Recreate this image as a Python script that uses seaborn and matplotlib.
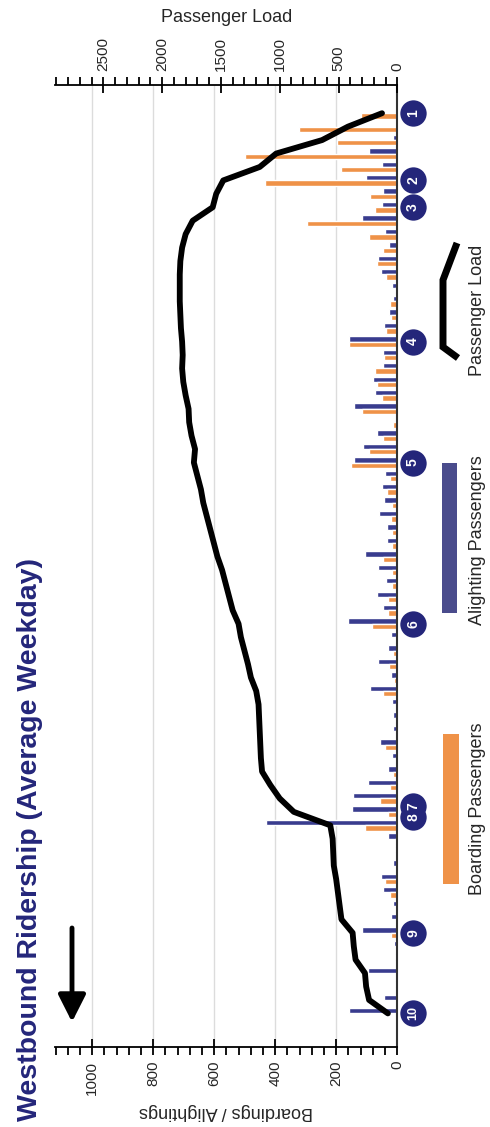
import matplotlib
matplotlib.use("Agg")
import matplotlib.pyplot as plt
import matplotlib.ticker as mticker
from matplotlib import font_manager
import numpy as np
import pandas as pd
import seaborn as sns

# ---------------------------------------------------------------- data
stops = list(range(68))
boardings = [120, 321, 197, 500, 185, 434, 90, 73, 297, 92, 46, 66, 37, 8, 24, 21, 38, 157,
             43, 73, 68, 51, 117, 15, 48, 92, 152, 24, 33, 19, 21, 19, 19, 48, 19, 19, 30, 30,
             84, 8, 13, 26, 11, 48, 8, 8, 8, 40, 8, 15, 24, 57, 30, 106, 8, 4, 5, 40, 24, 3,
             3, 21, 2, 2, 3, 2, 3, 0]
alightings = [3, 0, 13, 93, 51, 104, 46, 51, 117, 40, 27, 62, 55, 19, 15, 27, 43, 157,
              46, 48, 79, 73, 142, 4, 68, 114, 141, 40, 51, 43, 59, 33, 33, 106, 64, 37, 68, 46,
              161, 22, 32, 62, 21, 90, 19, 15, 15, 57, 19, 30, 95, 144, 150, 430, 30, 8, 13, 55,
              46, 13, 21, 117, 10, 8, 95, 8, 44, 157]
load = [130, 420, 640, 1030, 1170, 1480, 1540, 1570, 1740, 1800, 1830, 1845, 1850, 1850,
        1850, 1845, 1840, 1830, 1825, 1830, 1820, 1800, 1775, 1770, 1750, 1720, 1730, 1700,
        1670, 1650, 1620, 1590, 1560, 1530, 1490, 1460, 1430, 1400, 1350, 1330, 1300, 1270,
        1245, 1200, 1180, 1175, 1170, 1165, 1160, 1150, 1080, 1000, 880, 570, 550, 545, 540,
        520, 505, 490, 475, 380, 370, 355, 275, 265, 240, 80]
timepoint_labels = ["1", "2", "3", "4", "5", "6", "7", "8", "9", "10"]
timepoint_stops = [0, 5, 7, 17, 26, 38, 51.6, 52.4, 61, 67]

BLUE = "#393C8E"
ORANGE = "#EF9248"
NAVY = "#24267A"

sns.set_theme(style="white")
available = {f.name for f in font_manager.fontManager.ttflist}
plt.rcParams["font.family"] = ["Liberation Sans", "DejaVu Sans"]
title_family = ["Liberation Sans Narrow", "Liberation Sans", "DejaVu Sans"] \
    if "Liberation Sans Narrow" in available else ["Liberation Sans", "DejaVu Sans"]

df = pd.DataFrame({
    "stop": stops * 2,
    "riders": alightings + boardings,
    "kind": ["Alighting"] * len(stops) + ["Boarding"] * len(stops),
})

W, H = 490, 1127
fig = plt.figure(figsize=(W / 100, H / 100), dpi=100)
ax = fig.add_axes([55 / W, 1 - 1047 / H, (397.3 - 55) / W, (1047 - 85) / H])

sns.barplot(data=df, x="riders", y="stop", hue="kind", hue_order=["Alighting", "Boarding"],
            palette=[BLUE, ORANGE], orient="h", dodge=True, width=0.8, saturation=1,
            errorbar=None, legend=False, ax=ax)

ax2 = ax.twiny()
sns.lineplot(x=load, y=stops, sort=False, estimator=None, color="black", lw=4.2,
             solid_joinstyle="round", ax=ax2)

# boardings / alightings axis (bottom)
ax.set_xlim(1122, 0)
ax.set_ylim(69.5, -2.1)
ax.xaxis.set_major_locator(mticker.FixedLocator(range(0, 1001, 200)))
ax.xaxis.set_minor_locator(mticker.FixedLocator(range(0, 1121, 40)))
ax.tick_params(axis="x", which="major", direction="inout", length=12, width=1.3,
               labelsize=11, labelrotation=90, pad=4, color="black")
ax.tick_params(axis="x", which="minor", direction="out", length=6, width=1.3, color="black")
ax.tick_params(axis="y", left=False, right=False, labelleft=False)
ax.set_xlabel("Boardings / Alightings", rotation=180, fontsize=13, labelpad=6)
ax.set_ylabel("")
ax.grid(axis="x", which="major", color="#dcdcdc", lw=1)
ax.set_axisbelow(True)
for side in ["left", "top"]:
    ax.spines[side].set_visible(False)
ax.spines["bottom"].set_color("black")
ax.spines["bottom"].set_linewidth(1.3)
ax.spines["right"].set_color("#333333")
ax.spines["right"].set_linewidth(1.5)

# passenger load axis (top)
ax2.set_xlim(2911, 0)
ax2.xaxis.set_major_locator(mticker.FixedLocator(range(0, 2501, 500)))
ax2.xaxis.set_minor_locator(mticker.FixedLocator(range(0, 2901, 100)))
ax2.tick_params(axis="x", which="major", direction="inout", length=12, width=1.3,
                labelsize=11, labelrotation=90, pad=4, color="black")
ax2.tick_params(axis="x", which="minor", direction="out", length=6, width=1.3, color="black")
ax2.tick_params(axis="y", left=False, right=False, labelleft=False, labelright=False)
ax2.set_xlabel("Passenger Load", fontsize=13, labelpad=11)
ax2.set_ylabel("")
for side in ["left", "right", "bottom"]:
    ax2.spines[side].set_visible(False)
ax2.spines["top"].set_color("black")
ax2.spines["top"].set_linewidth(1.3)

# timepoint markers
tr = ax.get_yaxis_transform()
tx = (413 - 55) / (397.3 - 55)
ax.scatter([tx] * len(timepoint_stops), timepoint_stops, s=360, color=NAVY,
           transform=tr, clip_on=False, zorder=5, linewidths=0)
for lab, pos in zip(timepoint_labels, timepoint_stops):
    ax.text(tx, pos, lab, transform=tr, rotation=90, ha="center", va="center",
            color="white", fontsize=10 if len(lab) == 1 else 9, fontweight="bold",
            zorder=6, clip_on=False)

# overlay in pixel space for title, arrow and legend
ov = fig.add_axes([0, 0, 1, 1], zorder=10)
ov.set_xlim(0, W)
ov.set_ylim(H, 0)
ov.axis("off")
ov.patch.set_alpha(0)

ov.text(30, 1121, "Westbound Ridership (Average Weekday)", rotation=90, ha="center",
        va="bottom", fontsize=20.5, fontweight="bold", color=NAVY, family=title_family)
ov.annotate("", xy=(72, 1022), xytext=(72, 928),
            arrowprops=dict(arrowstyle="-|>,head_length=0.75,head_width=0.38", lw=3.5,
                            color="black", mutation_scale=22, shrinkA=0, shrinkB=0))

ov.plot([457, 443, 443, 458], [243, 280, 347, 358], color="black", lw=5,
        solid_joinstyle="miter", solid_capstyle="butt")
ov.add_patch(plt.Rectangle((442, 463), 15, 150, color="#4A4C8C", lw=0))
ov.add_patch(plt.Rectangle((443, 734), 16, 150, color=ORANGE, lw=0))
for txt, yc in [("Passenger Load", 310), ("Alighting Passengers", 540),
                ("Boarding Passengers", 809)]:
    ov.text(477, yc, txt, rotation=90, ha="center", va="center", fontsize=13)

fig.savefig("out.png", dpi=100)
